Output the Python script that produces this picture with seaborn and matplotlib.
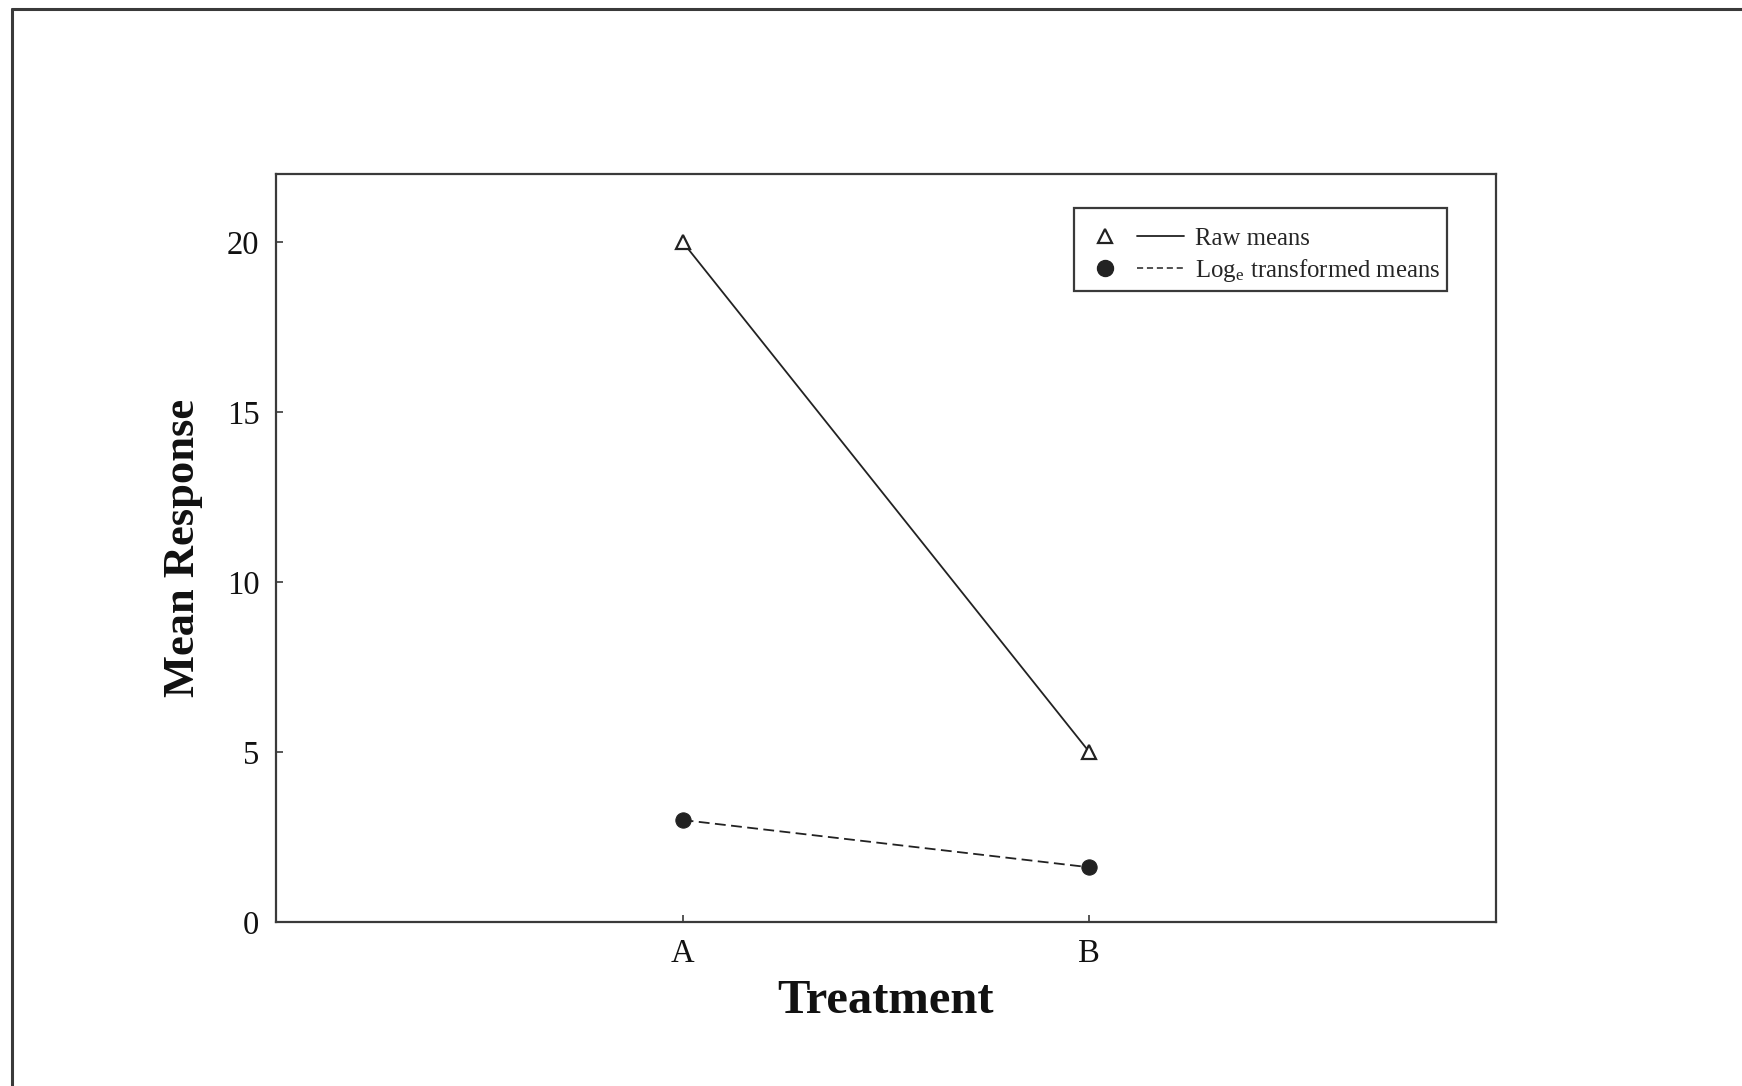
import matplotlib
matplotlib.use("Agg")
import matplotlib.pyplot as plt
from matplotlib.lines import Line2D
from matplotlib.legend_handler import HandlerTuple
import seaborn as sns
import pandas as pd

# Treatment means on the raw scale and after a natural-log transform
treatments = ["A", "B"]
raw_means = [20.0, 5.0]
log_means = [3.0, 1.61]
y_ticks = [0, 5, 10, 15, 20]

sns.set_theme(style="white")
plt.rcParams["font.family"] = ["Liberation Serif", "DejaVu Serif"]
plt.rcParams["mathtext.fontset"] = "stix"

ink = "#222222"
frame_col = "#3a3a3a"

df = pd.DataFrame({"Treatment": treatments, "Raw": raw_means, "Log": log_means})

fig = plt.figure(figsize=(17.42, 10.86), dpi=100)
ax = fig.add_axes([0.1584, 0.1510, 0.8588 - 0.1584, 0.8398 - 0.1510])

sns.lineplot(data=df, x="Treatment", y="Raw", ax=ax, color=ink, lw=1.3,
             marker="^", markersize=10.5, markerfacecolor="white",
             markeredgecolor=ink, markeredgewidth=1.6, sort=False)
sns.lineplot(data=df, x="Treatment", y="Log", ax=ax, color=ink, lw=1.3,
             linestyle=(0, (6, 3)), marker="o", markersize=11,
             markerfacecolor=ink, markeredgecolor=ink, sort=False)

ax.set_xlim(-1, 2)
ax.set_ylim(0, 22)
ax.set_yticks(y_ticks)
ax.set_yticklabels([str(v) for v in y_ticks])

for side in ["left", "right", "top", "bottom"]:
    ax.spines[side].set_visible(True)
    ax.spines[side].set_color(frame_col)
    ax.spines[side].set_linewidth(1.6)

ax.tick_params(axis="both", direction="in", length=5, width=1.2,
               color=frame_col, labelsize=23.5, pad=12, labelcolor="#111111",
               bottom=True, left=True, top=False, right=False)

ax.set_xlabel("Treatment", fontsize=35, fontweight="bold", color="#111111",
              labelpad=7)
ax.set_ylabel("Mean Response", fontsize=32, fontweight="bold", color="#111111")
ax.yaxis.set_label_coords(-0.060, 0.5)

# Legend: marker and line sample drawn side by side
tri = Line2D([], [], linestyle="none", marker="^", markersize=10.5,
             markerfacecolor="white", markeredgecolor=ink, markeredgewidth=1.6)
solid = Line2D([], [], color=ink, lw=1.3)
dot = Line2D([], [], linestyle="none", marker="o", markersize=11.5,
             markerfacecolor=ink, markeredgecolor=ink)
dash = Line2D([], [], color=ink, lw=1.1, linestyle=(0, (4, 2.5)))

fs = 17.8
em = fs * 100 / 72
leg = ax.legend([(tri, solid), (dot, dash)],
                ["Raw means", "Log$_\\mathregular{e}$ transformed means"],
                handler_map={tuple: HandlerTuple(ndivide=2, pad=9 / em)},
                loc="upper right", bbox_to_anchor=(0.9600, 0.9545),
                borderaxespad=0, fontsize=fs, handlelength=103 / em,
                handletextpad=11 / em, labelspacing=0.3,
                borderpad=6.8 / em, title=" ", title_fontsize=5,
                fancybox=False, frameon=True, framealpha=1)
leg.get_frame().set_edgecolor(frame_col)
leg.get_frame().set_linewidth(1.6)

# Outer page frame
fig.add_artist(Line2D([12 / 1742, 12 / 1742], [0, 1 - 9 / 1086],
                      transform=fig.transFigure, color=frame_col, lw=2.2))
fig.add_artist(Line2D([12 / 1742, 1], [1 - 9 / 1086, 1 - 9 / 1086],
                      transform=fig.transFigure, color=frame_col, lw=2.2))

fig.savefig("out.png", dpi=100, facecolor="white")
